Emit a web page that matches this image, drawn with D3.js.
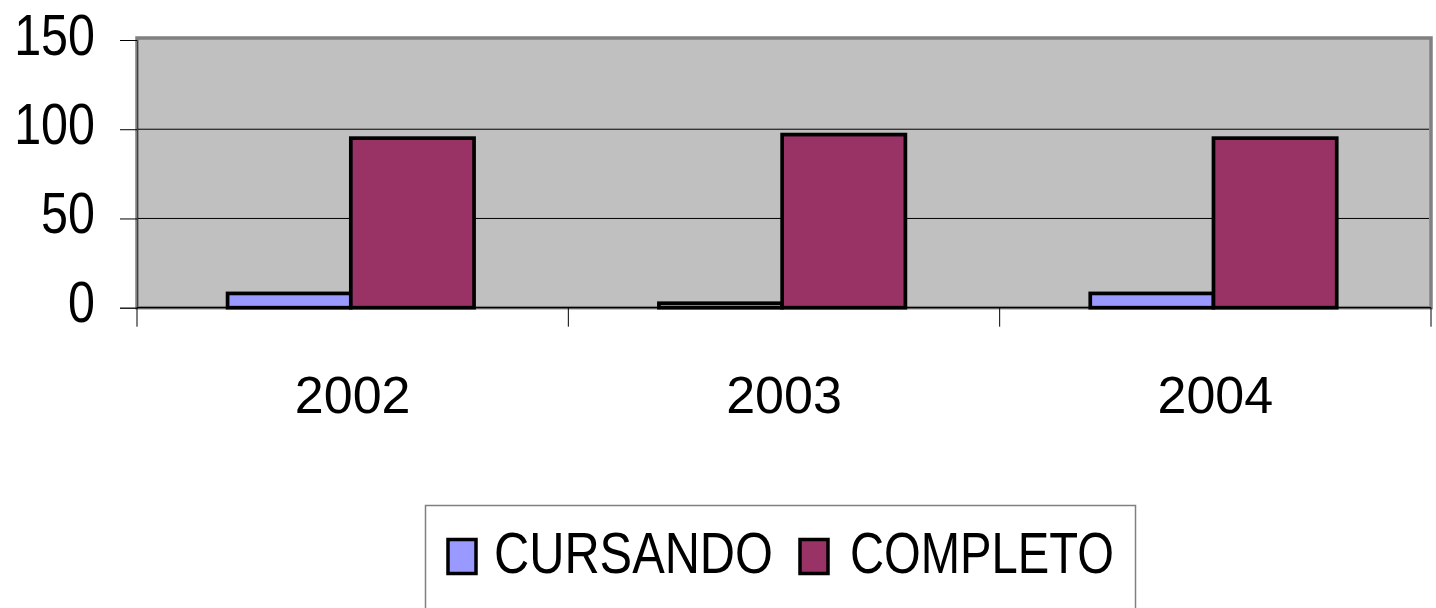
<!DOCTYPE html>
<html><head><meta charset="utf-8">
<script src="https://cdn.jsdelivr.net/npm/d3@7"></script>
<style>html,body{margin:0;padding:0;background:#fff;overflow:hidden}svg{display:block}text{font-family:"Liberation Sans",Arial,sans-serif;fill:#000}</style>
</head><body>
<svg id="c" width="1436" height="608"></svg>
<script>
const categories = ["2002", "2003", "2004"];
const seriesNames = ["CURSANDO", "COMPLETO"];
const cursando = [8, 2.5, 8];
const completo = [95, 97, 95];
const yTicks = [0, 50, 100, 150];
const colors = ["#9999FF", "#993366"];

const svg = d3.select("#c");
const L = 137, R = 1431, T = 40, B = 307.7;
const x0 = d3.scaleBand().domain(categories).range([L, R]).paddingInner(0).paddingOuter(0);
const x1 = d3.scaleBand().domain(seriesNames).range([0, x0.bandwidth()]).paddingInner(0).paddingOuter(0.75).align(0.49);
const y = d3.scaleLinear().domain([0, 150]).range([B, T]);

// plot area
svg.append("rect").attr("x", L).attr("y", T - 2).attr("width", R - L).attr("height", B - T + 2)
  .attr("fill", "#C0C0C0").attr("stroke", "#808080").attr("stroke-width", 3.5);

// gridlines
svg.append("g").selectAll("line").data(yTicks.filter(v => v > 0 && v < 150)).join("line")
  .attr("x1", L).attr("x2", R - 2).attr("y1", d => y(d)).attr("y2", d => y(d))
  .attr("stroke", "#000").attr("stroke-width", 1);

// bars
const data = categories.map((c, i) => ({c, vals: [cursando[i], completo[i]]}));
const g = svg.append("g").selectAll("g").data(data).join("g")
  .attr("transform", d => `translate(${x0(d.c)},0)`);
g.selectAll("rect").data(d => d.vals.map((v, j) => ({v, s: seriesNames[j], j}))).join("rect")
  .attr("x", d => x1(d.s)).attr("width", x1.bandwidth())
  .attr("y", d => y(d.v)).attr("height", d => y(0) - y(d.v))
  .attr("fill", d => colors[d.j]).attr("stroke", "#000").attr("stroke-width", 3.7);

// y axis
const yAxis = d3.axisLeft(y).tickValues(yTicks).tickSize(17).tickFormat(d3.format("d"));
const ya = svg.append("g").attr("transform", `translate(${L},0)`).call(yAxis);
ya.select(".domain").attr("stroke", "#404040").attr("stroke-width", 1);
ya.selectAll(".tick line").attr("stroke", "#000");
ya.selectAll(".tick text").attr("font-size", 57).attr("x", 0).attr("dy", 14)
  .attr("transform", "translate(-42,0) scale(0.85,1)")
  .attr("font-family", "'Liberation Sans', Arial, sans-serif").attr("fill", "#000");

// x axis
const xa = svg.append("g").attr("transform", `translate(0,${B})`);
xa.append("line").attr("x1", L).attr("x2", R).attr("y1", 0).attr("y2", 0).attr("stroke", "#000").attr("stroke-width", 1.2);
const bounds = categories.map(c => x0(c)).concat([x0(categories[categories.length - 1]) + x0.bandwidth()]);
xa.selectAll("line.tk").data(bounds).join("line").attr("class", "tk")
  .attr("x1", d => d).attr("x2", d => d).attr("y1", 0).attr("y2", 19).attr("stroke", "#000");
xa.selectAll("text").data(categories).join("text")
  .attr("x", d => x0(d) + x0.bandwidth() / 2).attr("y", 105)
  .attr("text-anchor", "middle").attr("font-size", 52).text(d => d);

// legend
const lg = svg.append("g");
lg.append("rect").attr("x", 425.5).attr("y", 505.5).attr("width", 710).attr("height", 130)
  .attr("fill", "#fff").attr("stroke", "#808080").attr("stroke-width", 1.5);
const legendItems = [
  {name: seriesNames[0], sx: 448, tx: 494, tl: 279},
  {name: seriesNames[1], sx: 800, tx: 850, tl: 264}
];
legendItems.forEach((it, i) => {
  lg.append("rect").attr("x", it.sx).attr("y", 539.5).attr("width", 28).attr("height", 34)
    .attr("fill", colors[i]).attr("stroke", "#000").attr("stroke-width", 3.5);
  lg.append("text").attr("x", it.tx).attr("y", 573).attr("font-size", 58)
    .attr("textLength", it.tl).attr("lengthAdjust", "spacingAndGlyphs").text(it.name);
});
</script>
</body></html>
